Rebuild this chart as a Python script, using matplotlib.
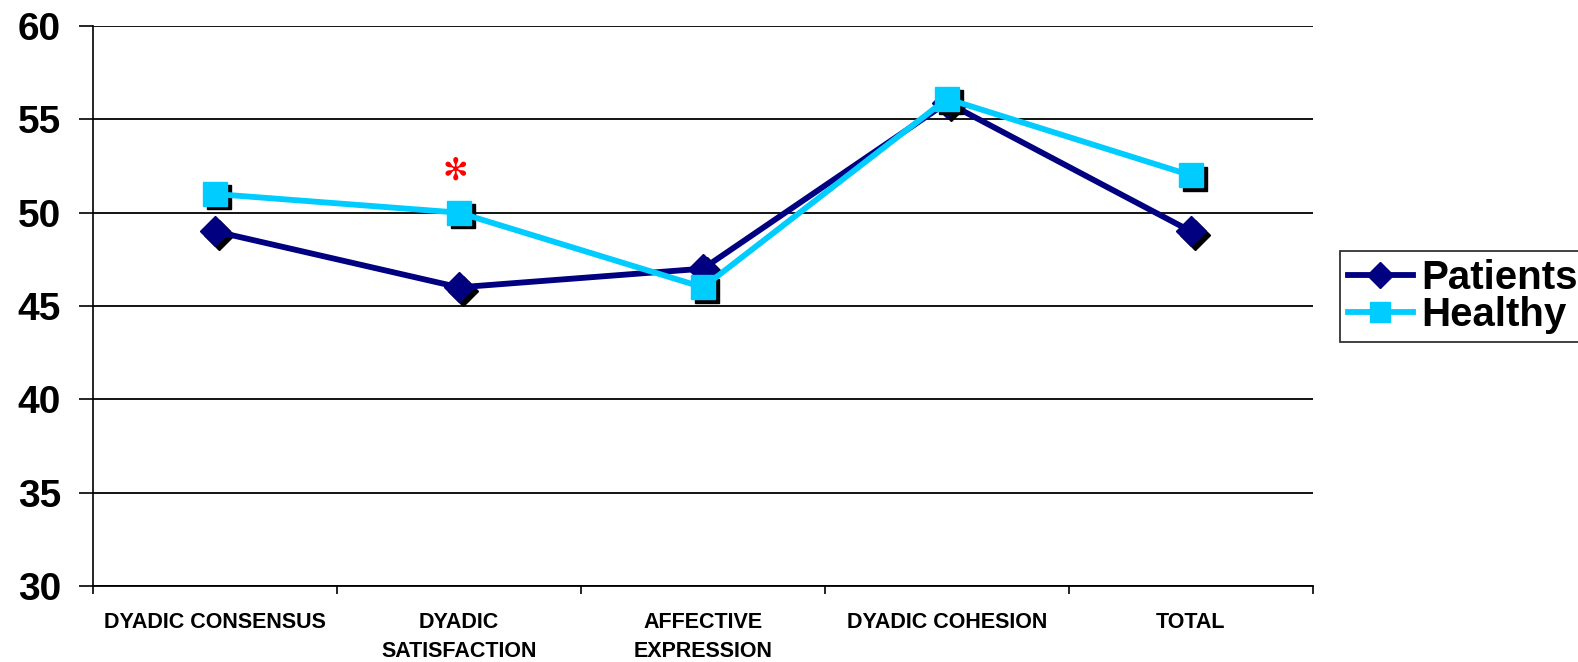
import matplotlib
matplotlib.use("Agg")
import matplotlib.pyplot as plt
import matplotlib.transforms as mtransforms

categories = ["DYADIC CONSENSUS", "DYADIC\nSATISFACTION", "AFFECTIVE\nEXPRESSION",
              "DYADIC COHESION", "TOTAL"]
patients = [49, 46, 47, 55.9, 49]
healthy = [51, 50, 46, 56.1, 52]
yticks = [30, 35, 40, 45, 50, 55, 60]
star_pos = (0.985, 52.25)

plt.rcParams['font.family'] = ['Liberation Sans', 'DejaVu Sans']
plt.rcParams['font.weight'] = 'bold'

fig = plt.figure(figsize=(15.78, 6.62), dpi=100)
ax = fig.add_axes([93/1578, 1-586/662, (1313-93)/1578, (586-26)/662])

x = list(range(len(categories)))
navy = "#000080"
cyan = "#00CCFF"

shadow = ax.transData + mtransforms.ScaledTranslation(3.5/100, -3.5/100, fig.dpi_scale_trans)
ax.plot(x, patients, linestyle='none', marker='D', markersize=15, color='black', transform=shadow, zorder=3)
ax.plot(x, patients, color=navy, lw=4.2, marker='D', markersize=15, label='Patients', zorder=4)
ax.plot(x, healthy, linestyle='none', marker='s', markersize=17, color='black', transform=shadow, zorder=5)
ax.plot(x, healthy, color=cyan, lw=4.2, marker='s', markersize=17, label='Healthy', zorder=6)

ax.text(star_pos[0], star_pos[1], "\u273B", color='red', fontsize=22, ha='center', va='center',
        family=['DejaVu Sans'], fontweight='normal')

ax.set_xlim(-0.5, len(categories) - 0.5)
ax.set_ylim(30, 60)
ax.set_yticks(yticks)
ax.set_yticklabels([str(v) for v in yticks], fontsize=28, fontweight='bold')
ax.yaxis.grid(True, color='black', lw=1.3)
ax.set_axisbelow(True)

ax.set_xticks([i + 0.5 for i in range(-1, len(categories))])
ax.set_xticklabels([])
ax.tick_params(axis='x', which='major', length=6, width=1.2, direction='out')
ax.set_xticks(x, minor=True)
ax.set_xticklabels(categories, minor=True, fontsize=15.5, fontweight='bold', linespacing=1.45)
ax.tick_params(axis='x', which='minor', length=0, pad=19)
ax.tick_params(axis='y', length=10, width=1.2, direction='out', pad=13)

for s in ['top', 'right']:
    ax.spines[s].set_visible(False)
ax.spines['left'].set_linewidth(1.2)
ax.spines['bottom'].set_linewidth(1.3)

leg = ax.legend(loc='upper left', bbox_to_anchor=(1340/1578, 1-251/662), bbox_transform=fig.transFigure,
                prop={'size': 29, 'weight': 'bold'}, frameon=True, fancybox=False,
                edgecolor='black', handlelength=1.6, handletextpad=0.22, borderpad=0.2,
                labelspacing=-0.02, borderaxespad=0, markerscale=0.85)
leg.get_frame().set_linewidth(1.3)

fig.savefig("out.png", dpi=100)
